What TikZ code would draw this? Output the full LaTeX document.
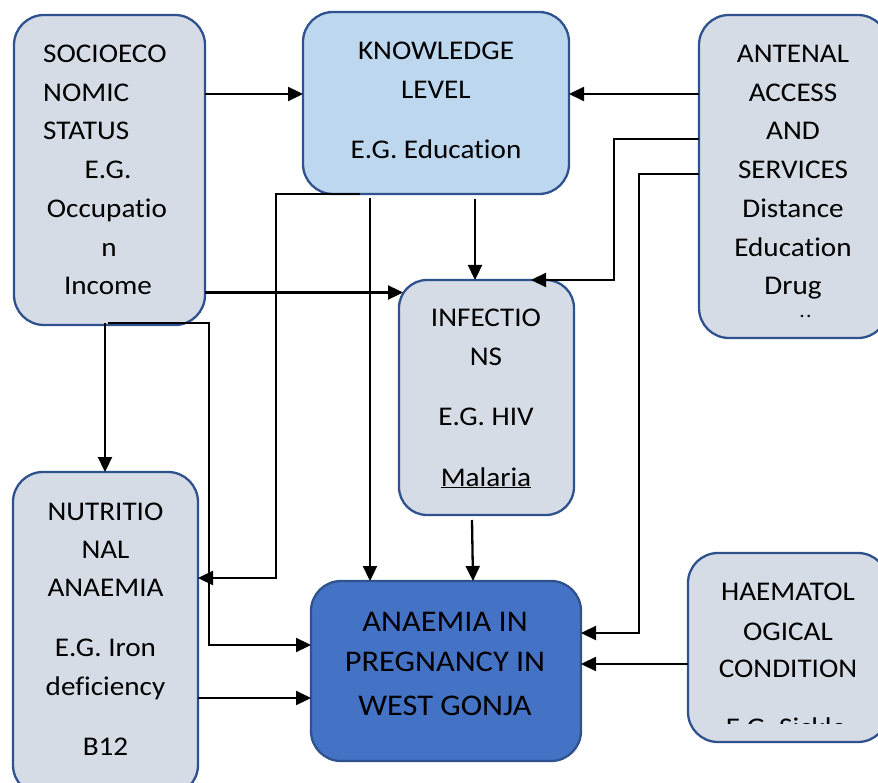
\documentclass[tikz,border=0pt]{standalone}
\usepackage{fontspec}
\setmainfont{Carlito}[FakeStretch=1.08,Ligatures={NoCommon,NoContextual},RawFeature={-liga;-calt;-dlig}]
\usetikzlibrary{arrows.meta}
\definecolor{boxfill}{HTML}{D6DCE5}
\definecolor{boxline}{HTML}{2F528F}
\definecolor{knowfill}{HTML}{BDD7EE}
\definecolor{mainfill}{HTML}{4472C4}
\begin{document}
\begin{tikzpicture}[x=1pt,y=-1pt,
  box/.style={draw=boxline, line width=2.3pt, fill=boxfill, rounded corners=30pt, inner sep=0pt, outer sep=0pt},
  txt/.style={anchor=base, inner sep=0pt, font=\fontsize{27}{32}\selectfont},
  big/.style={anchor=base, inner sep=0pt, font=\fontsize{30}{36}\selectfont},
  arr/.style={line width=2.3pt, -{Triangle[length=15pt,width=14pt]}},
  ln/.style={line width=2.3pt}]
\useasboundingbox (0,0) rectangle (878,783);
\clip (0,0) rectangle (878,783);

% boxes
\node[box, minimum width=191pt, minimum height=310pt] (ses) at (109.5,170) {};
\node[box, fill=knowfill, minimum width=266pt, minimum height=182pt] (know) at (436,103) {};
\node[box, minimum width=189pt, minimum height=323pt] (ant) at (793.5,176.5) {};
\node[box, rounded corners=28pt, minimum width=175pt, minimum height=235pt] (inf) at (486.5,397.5) {};
\node[box, minimum width=185pt, minimum height=323pt] (nut) at (105.5,633.5) {};
\node[box, fill=mainfill, minimum width=270pt, minimum height=180pt] (anem) at (446,671) {};
\node[box, minimum width=200pt, minimum height=189pt] (haem) at (788,647.5) {};

% texts: socioeconomic
\node[txt, anchor=base west] (s1) at (43,63) {SOCIOECO};
\node[txt, anchor=base west] (s2) at (43,101.5) {NOMIC};
\node[txt, anchor=base west] (s3) at (43,140) {STATUS};
\node[txt] (s4) at (108,179) {E.G.};
\node[txt] (s5) at (107,218) {Occupat\kern0pt io};
\node[txt] (s6) at (109,256.5) {n};
\node[txt] (s7) at (108,295) {Income};
% knowledge
\node[txt] (k1) at (436,60) {KNOWLEDGE};
\node[txt] (k2) at (436,98.5) {LEVEL};
\node[txt] (k3) at (436,158.5) {E.G. Educat\kern0pt ion};
% antenal
\node[txt] (a1) at (793,62.7) {ANTENAL};
\node[txt] (a2) at (793,101.5) {ACCESS};
\node[txt] (a3) at (793,140) {AND};
\node[txt] (a4) at (793,179) {SERVICES};
\node[txt] (a5) at (793,218) {Distance};
\node[txt] (a6) at (793,256.5) {Educat\kern0pt ion};
\node[txt] (a7) at (793,295) {Drug};
\node[anchor=base, inner sep=0pt, font=\fontsize{20}{22}\selectfont] (a8) at (805.5,318) {.\kern1.5pt.};
% infections
\node[txt] (i1) at (486,326.7) {INFECTIO};
\node[txt] (i2) at (486,366) {NS};
\node[txt] (i3) at (486,425.7) {E.G. HIV};
\node[txt] (i4) at (486,486) {\underline{Malaria}};
% nutritional
\node[txt] (n1) at (105.5,520) {NUTRITIO};
\node[txt] (n2) at (105.5,558.3) {NAL};
\node[txt] (n3) at (105.5,596.7) {ANAEMIA};
\node[txt] (n4) at (105.5,656.7) {E.G. Iron};
\node[txt] (n5) at (105.5,695) {deficiency};
\node[txt] (n6) at (105.5,755) {B12};
% main
\node[big] (m1) at (445,631.7) {ANAEMIA IN};
\node[big] (m2) at (445,671.7) {PREGNANCY IN};
\node[big] (m3) at (445,715) {WEST GONJA};
% haematological
\node[txt] (h1) at (788,600) {HAEMATOL};
\node[txt] (h2) at (788,640) {OGICAL};
\node[txt] (h3) at (788,677.3) {CONDITION};
\begin{scope}
\clip (688,553) rectangle (888,723.5);
\node[txt] (h4) at (786,736) {E.G. Sickle};
\end{scope}

% connectors
\draw[arr] (ses.east |- 0,94) -- (know.west |- 0,94);
\draw[arr] (ant.west |- 0,94) -- (know.east |- 0,94);
\draw[arr] (ant.west |- 0,139) -| (614,280) -- (531,280);
\draw[arr] (ant.west |- 0,174) -| (639,633) -- (anem.east |- 0,633);
\draw[arr] (haem.west |- 0,664) -- (anem.east |- 0,664);
\draw[arr] (475,199) -- (inf.north -| 475,0);
\draw[arr] (360,194) -| (276,578) -- (nut.east |- 0,578);
\draw[arr] (370,198) -- (anem.north -| 370,0);
\draw[arr] (ses.east |- 0,292.5) -- (403,292.5);
\draw[arr] (108,323) -| (209,645) -- (anem.west |- 0,645);
\draw[arr] (105,323) -- (nut.north -| 105,0);
\draw[arr] (nut.east |- 0,698) -- (anem.west |- 0,698);
\draw[arr] (472,520) -- (anem.north -| 473,0);
\end{tikzpicture}
\end{document}
